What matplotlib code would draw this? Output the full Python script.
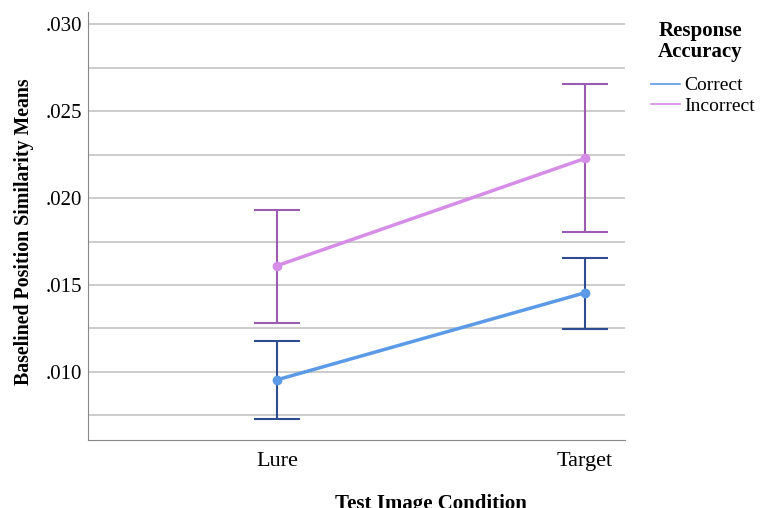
import matplotlib.pyplot as plt
from matplotlib.ticker import MultipleLocator, FuncFormatter

conditions = ["Lure", "Target"]
series_names = ["Correct", "Incorrect"]
correct_means = [0.00954, 0.01455]
correct_upper = [0.01179, 0.01657]
correct_lower = [0.00729, 0.01248]
incorrect_means = [0.01611, 0.02228]
incorrect_upper = [0.01934, 0.02654]
incorrect_lower = [0.01282, 0.01807]

plt.rcParams['font.family'] = ['Liberation Serif', 'DejaVu Serif']

fig = plt.figure(figsize=(7.6, 5.08), dpi=100)
ax = fig.add_axes([0.1158, 0.134, 0.7065, 0.842])

x = list(range(len(conditions)))
styles = [
    (correct_means, correct_lower, correct_upper, '#5b9ae6', '#2f4c8f'),
    (incorrect_means, incorrect_lower, incorrect_upper, '#d68de8', '#9a5bb0'),
]
for name, (m, lo, hi, lc, ec) in zip(series_names, styles):
    err = [[mi - l for mi, l in zip(m, lo)], [h - mi for mi, h in zip(m, hi)]]
    ax.errorbar(x, m, yerr=err, fmt='none', ecolor=ec, elinewidth=1.5,
                capsize=16.5, capthick=1.5, zorder=3)
    ax.plot(x, m, color=lc, lw=2.5, marker='o', ms=6, label=name, zorder=4)

ax.set_xlim(-0.614, 1.13)
ax.set_ylim(0.00608, 0.0307)
ax.set_xticks(x)
ax.set_xticklabels(conditions, fontsize=16)
ax.yaxis.set_major_locator(MultipleLocator(0.005))
ax.yaxis.set_minor_locator(MultipleLocator(0.0025))
ax.yaxis.set_major_formatter(FuncFormatter(lambda v, p: ('%.3f' % v).lstrip('0')))
ax.tick_params(axis='y', labelsize=15, length=0, which='both', pad=4)
ax.tick_params(axis='x', length=0, pad=9)
ax.grid(axis='y', which='both', color='#c4c4c4', lw=1.2, zorder=0)
for s in ['top', 'right']:
    ax.spines[s].set_visible(False)
for s in ['left', 'bottom']:
    ax.spines[s].set_color('#888888')

ax.set_ylabel('Baselined Position Similarity Means', fontsize=14.3, fontweight='bold')
ax.yaxis.set_label_coords(-0.1, 0.488)
ax.set_xlabel('Test Image Condition', fontsize=15, fontweight='bold', va='top')
ax.xaxis.set_label_coords(0.639, -0.126)

fig.text(0.921, 0.919, 'Response\nAccuracy', ha='center', va='center',
         fontsize=15, fontweight='bold', linespacing=1.05)
handles = [plt.Line2D([], [], color='#5b9ae6', lw=1.2),
           plt.Line2D([], [], color='#d68de8', lw=1.2)]
leg = fig.legend(handles, series_names, loc='upper left', bbox_to_anchor=(0.844, 0.868),
                 frameon=False, fontsize=14, borderpad=0,
                 handlelength=1.5, handletextpad=0.2, labelspacing=0.15)

fig.savefig('out.png', dpi=100)
